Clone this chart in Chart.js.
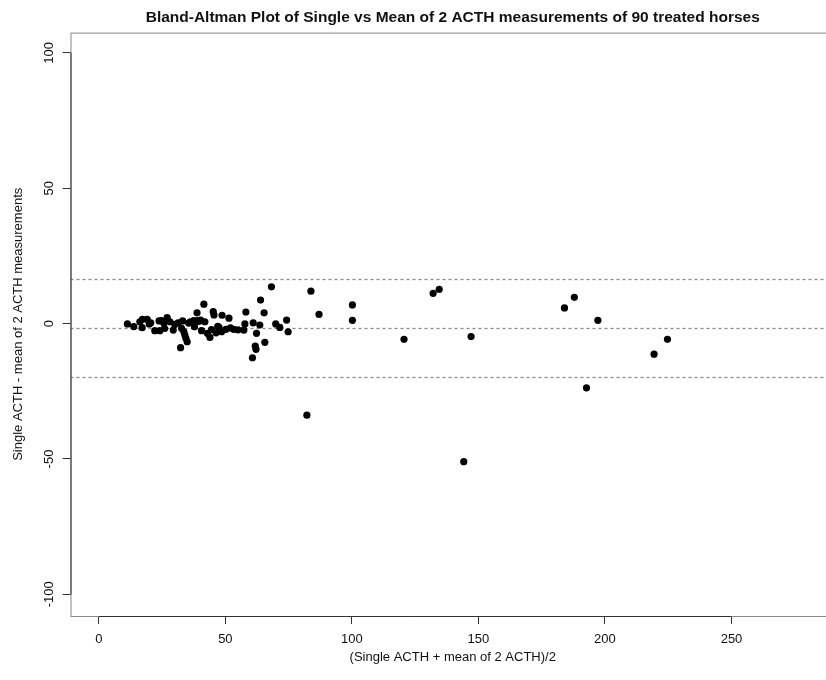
<!DOCTYPE html>
<html>
<head>
<meta charset="utf-8">
<script src="https://cdn.jsdelivr.net/npm/chart.js@4.4.1/dist/chart.umd.min.js"></script>
<style>
body{margin:0;background:#fff;}
#wrap{width:826px;height:680px;overflow:hidden;}
#box{width:850px;height:680px;}
</style>
</head>
<body>
<div id="wrap"><div id="box"><canvas id="myChart"></canvas></div></div>
<script>
// mean of the two methods (x) and difference (y)
const avgACTH = [11.3,13.8,16.2,17.2,19.1,19.9,17.1,22.1,23.8,24.8,24.1,25.7,27.0,28.1,29.4,31.3,33.1,32.7,33.6,34.0,
  34.4,34.9,32.3,36.2,37.5,38.9,40.2,41.9,38.8,41.5,40.6,42.9,43.9,45.2,45.5,46.3,47.5,48.7,48.5,50.2,
  51.4,53.3,57.3,58.1,57.7,61.0,62.3,61.8,62.1,60.7,63.9,65.3,65.6,63.6,68.2,69.9,71.5,74.2,74.8,83.8,
  87.0,100.2,100.2,120.6,132.1,134.5,147.1,184.0,187.9,197.2,192.7,219.4,224.7,82.2,144.2,30.0,35.5,37.8,39.5,44.5,
  47.0,55.0,20.5,26.0,52.0];
const diffACTH = [-0.1,-1.1,0.7,1.6,1.6,-0.1,-1.5,-2.6,1.0,1.1,-2.6,0.1,2.2,0.7,-2.4,0.3,1.0,-1.7,-3.0,-4.2,
  -5.4,-6.7,-8.9,0.7,1.1,1.1,1.3,0.7,4.0,7.2,-2.6,-3.6,-5.1,4.4,3.2,-3.4,-1.4,3.1,-3.0,-2.1,
  2.0,-2.1,-2.4,4.3,-0.1,0.3,-3.6,-8.3,-9.5,-12.6,8.7,4.0,-6.9,-0.5,13.6,-0.1,-1.4,1.3,-3.0,12.0,
  3.4,6.9,1.2,-5.8,11.2,12.7,-4.8,5.8,9.7,1.2,-23.7,-11.3,-5.8,-33.8,-51.0,-0.3,0.2,-1.2,0.8,-2.2,
  -1.0,-2.3,0.3,-1.8,-1.6];
// mean difference and limits of agreement
const limits = [16.5, -1.6, -19.7];
const xTicks = [0,50,100,150,200,250];
const yTicks = [-100,-50,0,50,100];

const points = avgACTH.map((x,i) => ({x: x, y: diffACTH[i]}));

const frame = {
  id: 'frame',
  beforeDatasetsDraw(chart){
    const {ctx, chartArea: a, scales: {x, y}} = chart;
    ctx.save();
    ctx.strokeStyle = '#8a8a8a';
    ctx.lineWidth = 1.3;
    ctx.setLineDash([3,3]);
    limits.forEach(v => {
      const py = Math.round(y.getPixelForValue(v)) + 0.5;
      ctx.beginPath(); ctx.moveTo(a.left, py); ctx.lineTo(a.right, py); ctx.stroke();
    });
    ctx.setLineDash([]);
    ctx.lineWidth = 1;
    ctx.strokeStyle = '#888';
    ctx.strokeRect(a.left + 0.5, a.top + 0.5, a.width, a.height);
    ctx.strokeStyle = '#333';
    ctx.beginPath();
    ctx.moveTo(x.getPixelForValue(xTicks[0]), a.bottom + 0.5);
    ctx.lineTo(x.getPixelForValue(xTicks[xTicks.length-1]), a.bottom + 0.5);
    ctx.moveTo(a.left + 0.5, y.getPixelForValue(yTicks[0]));
    ctx.lineTo(a.left + 0.5, y.getPixelForValue(yTicks[yTicks.length-1]));
    ctx.stroke();
    ctx.restore();
  }
};

const ctx = document.getElementById('myChart').getContext('2d');
const myChart = new Chart(ctx, {
  type: 'scatter',
  data: {
    datasets: [{
      data: points,
      pointRadius: 3.6,
      pointBackgroundColor: '#000',
      pointBorderWidth: 0,
      pointHoverRadius: 3.6
    }]
  },
  options: {
    responsive: true,
    maintainAspectRatio: false,
    animation: false,
    layout: {padding: {left: 0, right: 15, top: 0, bottom: 0}},
    plugins: {
      legend: {display: false},
      tooltip: {enabled: false},
      title: {
        display: true,
        fullSize: false,
        text: 'Bland-Altman Plot of Single vs Mean of 2 ACTH measurements of 90 treated horses',
        color: '#111',
        font: {family: "'Liberation Sans', Arial, sans-serif", size: 15.5, weight: 'bold'},
        padding: {top: 8, bottom: 6}
      }
    },
    scales: {
      x: {
        type: 'linear',
        min: -11.2,
        max: 290.9,
        afterFit: s => { s.height = 64; },
        afterBuildTicks: s => { s.ticks = xTicks.map(v => ({value: v})); },
        grid: {drawOnChartArea: false, drawTicks: true, tickLength: 8, color: '#333'},
        border: {display: false},
        ticks: {color: '#111', padding: 8, font: {family: "'Liberation Sans', Arial, sans-serif", size: 13}},
        title: {display: true, text: '(Single ACTH + mean of 2 ACTH)/2', color: '#111',
          font: {family: "'Liberation Sans', Arial, sans-serif", size: 13}, padding: {top: 0, bottom: 15}}
      },
      y: {
        type: 'linear',
        min: -108,
        max: 107.5,
        afterFit: s => { s.width = 70.5; },
        afterBuildTicks: s => { s.ticks = yTicks.map(v => ({value: v})); },
        grid: {drawOnChartArea: false, drawTicks: true, tickLength: 8, color: '#333'},
        border: {display: false},
        ticks: {color: '#111', padding: 0, minRotation: 90, maxRotation: 90, crossAlign: 'center',
          font: {family: "'Liberation Sans', Arial, sans-serif", size: 13}},
        title: {display: true, text: 'Single ACTH - mean of 2 ACTH measurements', color: '#111',
          font: {family: "'Liberation Sans', Arial, sans-serif", size: 13}, padding: {top: 11, bottom: 0}}
      }
    }
  },
  plugins: [frame]
});
</script>
</body>
</html>
